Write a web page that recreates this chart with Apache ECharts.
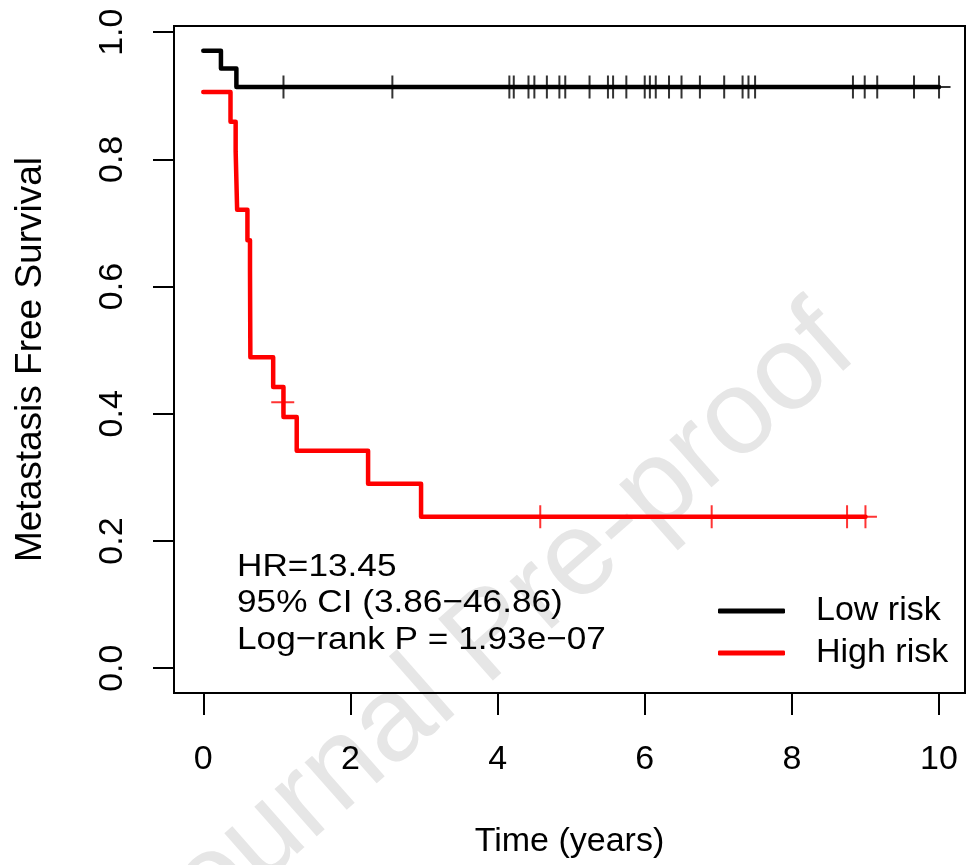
<!DOCTYPE html>
<html>
<head>
<meta charset="utf-8">
<script src="https://cdn.jsdelivr.net/npm/echarts@6/dist/echarts.min.js"></script>
</head>
<body style="margin:0;background:#fff">
<div id="km" style="width:966px;height:865px"></div>
<script>
// Kaplan-Meier steps (time in years, survival)
const lowTimes = [0, 0.24, 0.45, 10.0];
const lowSurv = [0.971, 0.943, 0.914, 0.914];
const highTimes = [0, 0.37, 0.44, 0.46, 0.60, 0.635, 0.64, 0.95, 1.09, 1.27, 2.24, 2.96, 9.0];
const highSurv = [0.906, 0.859, 0.813, 0.721, 0.673, 0.626, 0.489, 0.442, 0.395, 0.342, 0.290, 0.238, 0.238];

// censoring marks
const lowCensor = [1.09, 2.57, 4.16, 4.22, 4.42, 4.50, 4.67, 4.84, 4.92, 5.25, 5.50, 5.57, 5.75, 6.00,
  6.07, 6.15, 6.33, 6.50, 6.75, 7.08, 7.33, 7.41, 7.50, 8.83, 8.99, 9.16, 9.66, 10.0];
const lowCensorSurv = [0.914, 0.914, 0.914, 0.914, 0.914, 0.914, 0.914, 0.914, 0.914, 0.914, 0.914, 0.914, 0.914, 0.914,
  0.914, 0.914, 0.914, 0.914, 0.914, 0.914, 0.914, 0.914, 0.914, 0.914, 0.914, 0.914, 0.914, 0.914];
const highCensor = [1.08, 4.58, 6.91, 8.75, 9.0];
const highCensorSurv = [0.418, 0.238, 0.238, 0.238, 0.238];

const xTicks = [0, 2, 4, 6, 8, 10];
const yTicks = [0, 0.2, 0.4, 0.6, 0.8, 1.0];
const groups = ["Low risk", "High risk"];
const statLines = ["HR=13.45", "95% CI (3.86\u221246.86)", "Log\u2212rank P = 1.93e\u221207"];

const font = "Liberation Sans";
const plus = "path://M10,0L10,20M0,10L20,10";

const chart = echarts.init(document.getElementById("km"));

chart.setOption({
  animation: false,
  grid: {
    show: true,
    left: 174,
    right: 1,
    top: 26,
    bottom: 172,
    borderColor: "#000",
    borderWidth: 2
  },
  xAxis: {
    type: "value",
    min: -0.398,
    max: 10.353,
    name: "Time (years)",
    nameLocation: "middle",
    nameGap: 132,
    nameTextStyle: { fontFamily: font, fontSize: 34, color: "#000" },
    axisLine: { show: false, onZero: false },
    splitLine: { show: false },
    axisTick: { show: true, customValues: xTicks, length: 22, lineStyle: { color: "#000", width: 2 } },
    axisLabel: { customValues: xTicks, fontFamily: font, fontSize: 34, color: "#000", margin: 50 }
  },
  yAxis: {
    type: "value",
    min: -0.039,
    max: 1.00974,
    name: "Metastasis Free Survival",
    nameLocation: "middle",
    nameGap: 125,
    nameTextStyle: { fontFamily: font, fontSize: 37, color: "#000" },
    axisLine: { show: false, onZero: false },
    splitLine: { show: false },
    axisTick: { show: true, customValues: yTicks, length: 21, lineStyle: { color: "#000", width: 2 } },
    axisLabel: {
      customValues: yTicks,
      rotate: 90,
      fontFamily: font,
      fontSize: 34,
      color: "#000",
      margin: 44,
      formatter: (v) => v.toFixed(1)
    }
  },
  legend: {
    data: groups,
    orient: "vertical",
    left: 718,
    top: 593,
    padding: 0,
    itemWidth: 67,
    itemHeight: 5,
    itemGap: 6,
    icon: "roundRect",
    textStyle: { fontFamily: font, fontSize: 34, lineHeight: 36, color: "#000", padding: [0, 0, 0, 26] }
  },
  graphic: [
    {
      type: "text",
      x: 491,
      y: 638,
      rotation: 0.724,
      z: -10,
      silent: true,
      style: { text: "Journal Pre-proof", fontFamily: font, fontSize: 120, fill: "#e6e6e6", align: "center", verticalAlign: "middle" }
    },
    ...statLines.map((s, i) => ({
      type: "text",
      x: 237,
      y: 567 + i * 36.5,
      scaleX: 1.1,
      z: 10,
      style: { text: s, fontFamily: font, fontSize: 32, fill: "#000", verticalAlign: "middle" }
    }))
  ],
  series: [
    {
      name: groups[0],
      type: "line",
      step: "end",
      symbol: "none",
      color: "#000",
      data: lowTimes.map((t, i) => [t, lowSurv[i]]),
      lineStyle: { color: "#000", width: 4.5, cap: "round", join: "round" }
    },
    {
      name: groups[1],
      type: "line",
      step: "end",
      symbol: "none",
      color: "#ff0000",
      data: highTimes.map((t, i) => [t, highSurv[i]]),
      lineStyle: { color: "#ff0000", width: 4.5, cap: "round", join: "round" }
    },
    {
      type: "scatter",
      symbol: plus,
      symbolSize: 23,
      data: lowCensor.map((t, i) => [t, lowCensorSurv[i]]),
      itemStyle: { color: "rgba(0,0,0,0)", borderColor: "#000", borderWidth: 2 }
    },
    {
      type: "scatter",
      symbol: plus,
      symbolSize: 23,
      data: highCensor.map((t, i) => [t, highCensorSurv[i]]),
      itemStyle: { color: "rgba(0,0,0,0)", borderColor: "#ff0000", borderWidth: 2 }
    }
  ]
});
</script>
</body>
</html>
